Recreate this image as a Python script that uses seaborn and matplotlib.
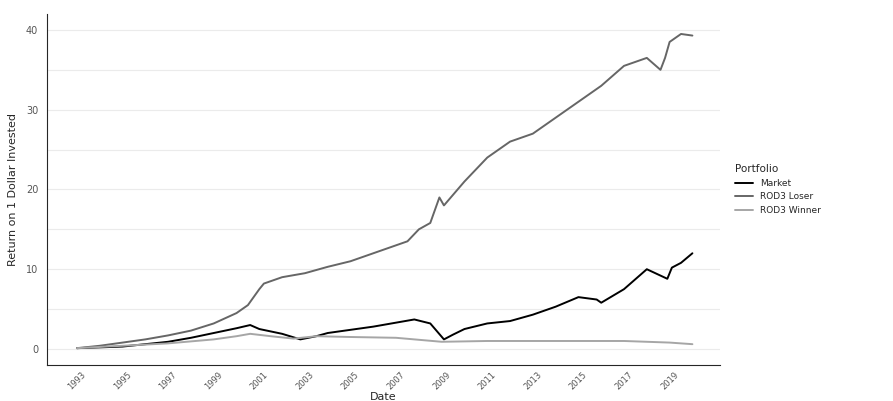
import matplotlib
matplotlib.use("Agg")
import matplotlib.pyplot as plt
import seaborn as sns
import pandas as pd

# ── Data ───────────────────────────────────────────────────────────────
loser_years = [1993, 1994, 1995, 1996, 1997, 1998, 1999, 2000, 2000.5, 2001, 2001.2,
               2002, 2003, 2004, 2005, 2006, 2007, 2007.5, 2008, 2008.5, 2008.9, 2009.1,
               2010, 2011, 2012, 2013, 2014, 2015, 2016, 2017, 2018, 2018.6, 2018.8,
               2019, 2019.5, 2020]
loser_vals = [0.1, 0.4, 0.8, 1.2, 1.7, 2.3, 3.2, 4.5, 5.5, 7.5, 8.2,
              9.0, 9.5, 10.3, 11.0, 12.0, 13.0, 13.5, 15.0, 15.8, 19.0, 18.0,
              21.0, 24.0, 26.0, 27.0, 29.0, 31.0, 33.0, 35.5, 36.5, 35.0, 36.5,
              38.5, 39.5, 39.3]

market_years = [1993, 1994, 1995, 1996, 1997, 1998, 1999, 2000, 2000.6, 2001, 2002,
                2002.8, 2003.5, 2004, 2005, 2006, 2007, 2007.8, 2008.5, 2009.1, 2009.5,
                2010, 2011, 2012, 2013, 2014, 2015, 2015.8, 2016, 2017, 2018, 2018.9,
                2019.1, 2019.5, 2020]
market_vals = [0.1, 0.2, 0.3, 0.6, 0.9, 1.4, 2.0, 2.6, 3.0, 2.5, 1.9,
               1.2, 1.6, 2.0, 2.4, 2.8, 3.3, 3.7, 3.2, 1.2, 1.8,
               2.5, 3.2, 3.5, 4.3, 5.3, 6.5, 6.2, 5.8, 7.5, 10.0, 8.8,
               10.2, 10.8, 12.0]

winner_years = [1993, 1995, 1997, 1999, 2000, 2000.6, 2001.5, 2002.5, 2003.5, 2005,
                2007, 2009, 2011, 2013, 2015, 2017, 2019, 2020]
winner_vals = [0.1, 0.4, 0.7, 1.2, 1.6, 1.9, 1.6, 1.3, 1.6, 1.5,
               1.4, 0.9, 1.0, 1.0, 1.0, 1.0, 0.8, 0.6]

df = pd.concat([
    pd.DataFrame({"Date": market_years, "Return": market_vals, "Portfolio": "Market"}),
    pd.DataFrame({"Date": loser_years, "Return": loser_vals, "Portfolio": "ROD3 Loser"}),
    pd.DataFrame({"Date": winner_years, "Return": winner_vals, "Portfolio": "ROD3 Winner"}),
])

# ── Plot ───────────────────────────────────────────────────────────────
sns.set_style("white")
fig, ax = plt.subplots(figsize=(8.93, 4.01), dpi=100)
sns.lineplot(data=df, x="Date", y="Return", hue="Portfolio", ax=ax,
             palette={"Market": "#000000", "ROD3 Loser": "#666666", "ROD3 Winner": "#a6a6a6"},
             linewidth=1.4)

ax.set_xlim(1991.7, 2021.2)
ax.set_ylim(-2, 42)
ax.set_yticks([0, 10, 20, 30, 40])
ax.set_yticks([5, 15, 25, 35], minor=True)
ax.grid(axis="y", which="both", color="#ebebeb", linewidth=0.8)
ax.set_axisbelow(True)
xt = list(range(1993, 2020, 2))
ax.set_xticks(xt)
ax.set_xticklabels([str(y) for y in xt], rotation=45, fontsize=6, color="#555555")
ax.tick_params(axis="x", pad=1, length=3)
ax.tick_params(axis="y", labelsize=7, labelcolor="#555555", length=3)
ax.set_xlabel("Date", fontsize=8, labelpad=0)
ax.set_ylabel("Return on 1 Dollar Invested", fontsize=8, labelpad=6)
for s in ["top", "right"]:
    ax.spines[s].set_visible(False)

leg = ax.legend(title="Portfolio", loc="center left", bbox_to_anchor=(1.01, 0.5),
                frameon=False, fontsize=6.5, title_fontsize=7.5)
leg._legend_box.align = "left"

fig.subplots_adjust(left=0.053, right=0.806, top=0.965, bottom=0.09)
fig.savefig("out.png", dpi=100)
